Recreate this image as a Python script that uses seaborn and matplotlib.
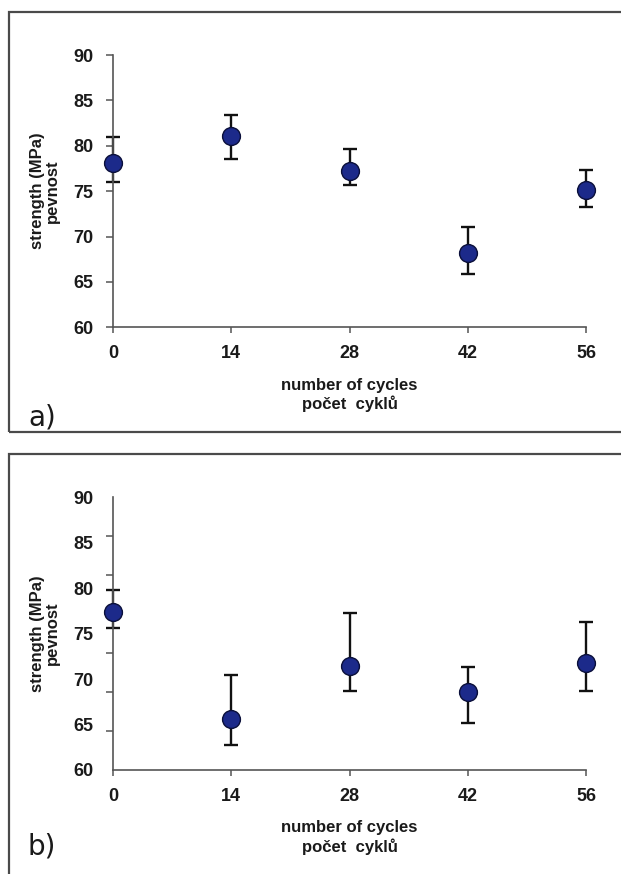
import matplotlib
matplotlib.use("Agg")
import matplotlib.pyplot as plt
import seaborn as sns
import numpy as np
import pandas as pd
from matplotlib.patches import Rectangle

# ---- data ----
cycles = [0, 14, 28, 42, 56]
x_ticks = [0, 14, 28, 42, 56]
y_ticks = [60, 65, 70, 75, 80, 85, 90]

# panel a
a_mean = [78.1, 81.1, 77.2, 68.2, 75.1]
a_upper = [81.0, 83.4, 79.6, 71.0, 77.3]
a_lower = [76.0, 78.5, 75.7, 65.9, 73.2]

# panel b
b_mean = [77.4, 65.6, 71.4, 68.6, 71.8]
b_upper = [79.8, 70.4, 77.3, 71.3, 76.3]
b_lower = [75.6, 62.7, 68.7, 65.2, 68.7]

x_label = "number of cycles\npočet  cyklů"
y_label = "strength (MPa)\npevnost"
panel_labels = ["a)", "b)"]

sns.set_theme(style="white")
plt.rcParams['font.family'] = ['Liberation Sans Narrow', 'Liberation Sans', 'DejaVu Sans']

W, H = 621, 874
fig = plt.figure(figsize=(W / 100, H / 100), dpi=100)
fig.patch.set_facecolor("white")

def fx(px):
    return px / W

def fy(py):
    return 1 - py / H

axis_color = "#555555"
text_color = "#1a1a1a"
marker_fill = "#1c2a8a"
marker_edge = "#0a0f3a"

panels = [
    dict(mean=a_mean, up=a_upper, lo=a_lower, top=55.0, bottom=327.3,
         frame=(9, 12, 640, 432.3), minor=None, letter_y=417),
    dict(mean=b_mean, up=b_upper, lo=b_lower, top=497.3, bottom=770.0,
         frame=(9, 454.3, 640, 900), minor=8, letter_y=846),
]

for i, p in enumerate(panels):
    left_px, right_px = 113, 586
    ax = fig.add_axes([fx(left_px), fy(p["bottom"]), (right_px - left_px) / W,
                       (p["bottom"] - p["top"]) / H])
    ax.set_facecolor("none")
    df = pd.DataFrame({"cycles": cycles, "strength": p["mean"]})
    yerr = np.array([np.array(p["mean"]) - np.array(p["lo"]),
                     np.array(p["up"]) - np.array(p["mean"])])
    ax.errorbar(cycles, p["mean"], yerr=yerr, fmt="none", ecolor="#111111",
                elinewidth=1.7, capsize=4.8, capthick=1.7, zorder=2, clip_on=False)
    sns.scatterplot(data=df, x="cycles", y="strength", ax=ax, s=165,
                    color=marker_fill, edgecolor=marker_edge, linewidth=1.0,
                    zorder=3, clip_on=False, legend=False)
    ax.set_xlim(0, 56)
    ax.set_ylim(60, 90)
    ax.set_xticks(x_ticks)
    ax.set_xticklabels([str(t) for t in x_ticks], fontsize=13, fontweight="bold",
                       color=text_color)
    ax.set_yticks(y_ticks)
    ax.set_yticklabels([str(t) for t in y_ticks], fontsize=13, fontweight="bold",
                       color=text_color)
    for s in ["top", "right"]:
        ax.spines[s].set_visible(False)
    for s in ["left", "bottom"]:
        ax.spines[s].set_color(axis_color)
        ax.spines[s].set_linewidth(1.2)
    ax.tick_params(axis="x", direction="out", length=4, width=1.1, color=axis_color,
                   pad=9, bottom=True)
    if p["minor"]:
        ax.tick_params(axis="y", which="major", length=0, pad=14, left=True)
        ax.set_yticks(np.linspace(60, 90, p["minor"]), minor=True)
        ax.tick_params(axis="y", which="minor", direction="out", length=5,
                       width=1.1, color=axis_color, left=True)
    else:
        ax.tick_params(axis="y", direction="out", length=5, width=1.1,
                       color=axis_color, pad=9, left=True)
    ax.set_xlabel(x_label, fontsize=12, fontweight="bold", color=text_color,
                  labelpad=11, linespacing=1.2)
    ax.set_ylabel(y_label, fontsize=12, fontweight="bold", color=text_color,
                  labelpad=10, linespacing=1.0)
    ax.grid(False)

    x0, y0, x1, y1 = p["frame"]
    fig.add_artist(Rectangle((fx(x0), fy(y1)), (x1 - x0) / W, (y1 - y0) / H,
                             transform=fig.transFigure, fill=False,
                             edgecolor="#4a4a4a", linewidth=1.6, clip_on=False))
    fig.text(fx(28), fy(p["letter_y"]), panel_labels[i], fontsize=20,
             family="DejaVu Sans", color=text_color, ha="left", va="center")

fig.savefig("out.png", dpi=100, facecolor="white")
